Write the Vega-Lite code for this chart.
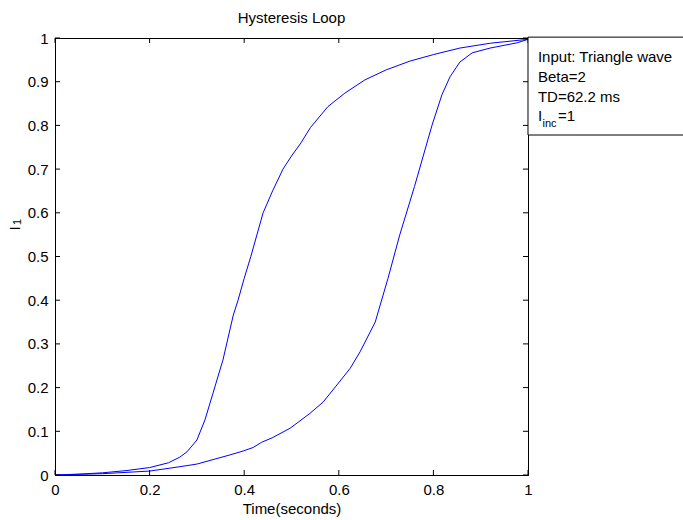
{
  "$schema": "https://vega.github.io/schema/vega-lite/v6.json",
  "width": 473,
  "height": 437,
  "autosize": {"type": "none"},
  "padding": {"left": 55, "top": 38, "right": 155, "bottom": 45},
  "background": "white",
  "title": {"text": "Hysteresis Loop", "font": "Liberation Sans", "fontSize": 15, "fontWeight": "normal", "color": "black", "baseline": "alphabetic", "offset": -7, "frame": "group"},
  "config": {
    "view": {"stroke": "black", "strokeWidth": 1},
    "axis": {"domainColor": "black", "domainWidth": 1, "ticks": false, "labelFlush": false, "labelOverlap": false, "labelColor": "black", "titleColor": "black", "labelFont": "Liberation Sans", "titleFont": "Liberation Sans", "labelFontSize": 15, "titleFontSize": 15, "titleFontWeight": "normal", "grid": false, "labelPadding": 7}
  },
  "datasets": {
    "xticks": [{"tick": 0}, {"tick": 0.2}, {"tick": 0.4}, {"tick": 0.6}, {"tick": 0.8}, {"tick": 1}],
    "yticks": [{"tick": 0}, {"tick": 0.1}, {"tick": 0.2}, {"tick": 0.3}, {"tick": 0.4}, {"tick": 0.5}, {"tick": 0.6}, {"tick": 0.7}, {"tick": 0.8}, {"tick": 0.9}, {"tick": 1}]
  },
  "data": {"values": [
    {"branch": "A", "t": 0, "v": 0},
    {"branch": "A", "t": 0.05, "v": 0.002},
    {"branch": "A", "t": 0.1, "v": 0.005},
    {"branch": "A", "t": 0.15, "v": 0.01},
    {"branch": "A", "t": 0.2, "v": 0.017},
    {"branch": "A", "t": 0.24, "v": 0.028},
    {"branch": "A", "t": 0.264, "v": 0.041},
    {"branch": "A", "t": 0.279, "v": 0.053},
    {"branch": "A", "t": 0.3, "v": 0.08},
    {"branch": "A", "t": 0.317, "v": 0.126},
    {"branch": "A", "t": 0.334, "v": 0.187},
    {"branch": "A", "t": 0.355, "v": 0.263},
    {"branch": "A", "t": 0.377, "v": 0.366},
    {"branch": "A", "t": 0.387, "v": 0.4},
    {"branch": "A", "t": 0.4, "v": 0.45},
    {"branch": "A", "t": 0.414, "v": 0.5},
    {"branch": "A", "t": 0.44, "v": 0.6},
    {"branch": "A", "t": 0.46, "v": 0.65},
    {"branch": "A", "t": 0.482, "v": 0.7},
    {"branch": "A", "t": 0.5, "v": 0.73},
    {"branch": "A", "t": 0.52, "v": 0.76},
    {"branch": "A", "t": 0.54, "v": 0.795},
    {"branch": "A", "t": 0.577, "v": 0.843},
    {"branch": "A", "t": 0.613, "v": 0.874},
    {"branch": "A", "t": 0.655, "v": 0.904},
    {"branch": "A", "t": 0.7, "v": 0.927},
    {"branch": "A", "t": 0.75, "v": 0.947},
    {"branch": "A", "t": 0.8, "v": 0.962},
    {"branch": "A", "t": 0.856, "v": 0.977},
    {"branch": "A", "t": 0.92, "v": 0.988},
    {"branch": "A", "t": 1, "v": 0.997},
    {"branch": "B", "t": 0, "v": 0},
    {"branch": "B", "t": 0.1, "v": 0.003},
    {"branch": "B", "t": 0.2, "v": 0.009},
    {"branch": "B", "t": 0.264, "v": 0.019},
    {"branch": "B", "t": 0.3, "v": 0.025},
    {"branch": "B", "t": 0.37, "v": 0.046},
    {"branch": "B", "t": 0.398, "v": 0.055},
    {"branch": "B", "t": 0.419, "v": 0.063},
    {"branch": "B", "t": 0.437, "v": 0.075},
    {"branch": "B", "t": 0.459, "v": 0.085},
    {"branch": "B", "t": 0.497, "v": 0.107},
    {"branch": "B", "t": 0.539, "v": 0.141},
    {"branch": "B", "t": 0.567, "v": 0.167},
    {"branch": "B", "t": 0.596, "v": 0.206},
    {"branch": "B", "t": 0.624, "v": 0.244},
    {"branch": "B", "t": 0.645, "v": 0.282},
    {"branch": "B", "t": 0.677, "v": 0.35},
    {"branch": "B", "t": 0.704, "v": 0.45},
    {"branch": "B", "t": 0.729, "v": 0.55},
    {"branch": "B", "t": 0.76, "v": 0.66},
    {"branch": "B", "t": 0.797, "v": 0.8},
    {"branch": "B", "t": 0.818, "v": 0.87},
    {"branch": "B", "t": 0.835, "v": 0.911},
    {"branch": "B", "t": 0.856, "v": 0.945},
    {"branch": "B", "t": 0.882, "v": 0.966},
    {"branch": "B", "t": 0.92, "v": 0.977},
    {"branch": "B", "t": 0.977, "v": 0.989},
    {"branch": "B", "t": 1, "v": 0.997}
  ]},
  "layer": [
    {
      "mark": {"type": "line", "color": "#0000ff", "strokeWidth": 1},
      "encoding": {
        "x": {"field": "t", "type": "quantitative", "scale": {"domain": [0, 1], "nice": false, "zero": false},
              "axis": {"values": [0, 0.2, 0.4, 0.6, 0.8, 1], "format": "~g", "title": "Time(seconds)", "titlePadding": 4}},
        "y": {"field": "v", "type": "quantitative", "scale": {"domain": [0, 1], "nice": false, "zero": false},
              "axis": {"values": [0, 0.1, 0.2, 0.3, 0.4, 0.5, 0.6, 0.7, 0.8, 0.9, 1], "format": "~g", "title": "I", "titleAngle": 270, "titleAlign": "center", "titleBaseline": "alphabetic", "titleX": -36, "titleY": 190}},
        "detail": {"field": "branch"}
      }
    },
    {
      "data": {"name": "xticks"},
      "mark": {"type": "rule", "color": "black", "strokeWidth": 1},
      "encoding": {"x": {"field": "tick", "type": "quantitative"}, "y": {"datum": 0}, "y2": {"datum": 0.0114}}
    },
    {
      "data": {"name": "xticks"},
      "mark": {"type": "rule", "color": "black", "strokeWidth": 1},
      "encoding": {"x": {"field": "tick", "type": "quantitative"}, "y": {"datum": 1}, "y2": {"datum": 0.9886}}
    },
    {
      "data": {"name": "yticks"},
      "mark": {"type": "rule", "color": "black", "strokeWidth": 1},
      "encoding": {"y": {"field": "tick", "type": "quantitative"}, "x": {"datum": 0}, "x2": {"datum": 0.0106}}
    },
    {
      "data": {"name": "yticks"},
      "mark": {"type": "rule", "color": "black", "strokeWidth": 1},
      "encoding": {"y": {"field": "tick", "type": "quantitative"}, "x": {"datum": 1}, "x2": {"datum": 0.9894}}
    },
    {
      "data": {"values": [{"label": "1"}]},
      "mark": {"type": "text", "align": "center", "baseline": "alphabetic", "angle": 270, "font": "Liberation Sans", "fontSize": 11, "fill": "black", "clip": false},
      "encoding": {"x": {"datum": -0.071}, "y": {"datum": 0.579}, "text": {"field": "label"}}
    },
    {
      "data": {"values": [{"box": "legend"}]},
      "mark": {"type": "rect", "fill": "white", "stroke": "black", "strokeWidth": 1, "clip": false},
      "encoding": {"x": {"datum": 1}, "x2": {"datum": 1.45}, "y": {"datum": 0.778}, "y2": {"datum": 1.002}}
    },
    {
      "data": {"values": [{"label": "Input: Triangle wave", "row": 0.945}, {"label": "Beta=2", "row": 0.899}, {"label": "TD=62.2 ms", "row": 0.853}, {"label": "I", "row": 0.81}]},
      "mark": {"type": "text", "align": "left", "baseline": "alphabetic", "font": "Liberation Sans", "fontSize": 15, "color": "black", "fill": "black", "clip": false},
      "encoding": {"x": {"datum": 1.021}, "y": {"field": "row", "type": "quantitative"}, "text": {"field": "label"}}
    },
    {
      "data": {"values": [{"label": "inc"}]},
      "mark": {"type": "text", "align": "left", "baseline": "alphabetic", "font": "Liberation Sans", "fontSize": 11, "color": "black", "fill": "black", "clip": false, "dx": 4.5, "dy": 6},
      "encoding": {"x": {"datum": 1.021}, "y": {"datum": 0.81}, "text": {"field": "label"}}
    },
    {
      "data": {"values": [{"label": "=1"}]},
      "mark": {"type": "text", "align": "left", "baseline": "alphabetic", "font": "Liberation Sans", "fontSize": 15, "color": "black", "fill": "black", "clip": false, "dx": 20},
      "encoding": {"x": {"datum": 1.021}, "y": {"datum": 0.81}, "text": {"field": "label"}}
    }
  ]
}
